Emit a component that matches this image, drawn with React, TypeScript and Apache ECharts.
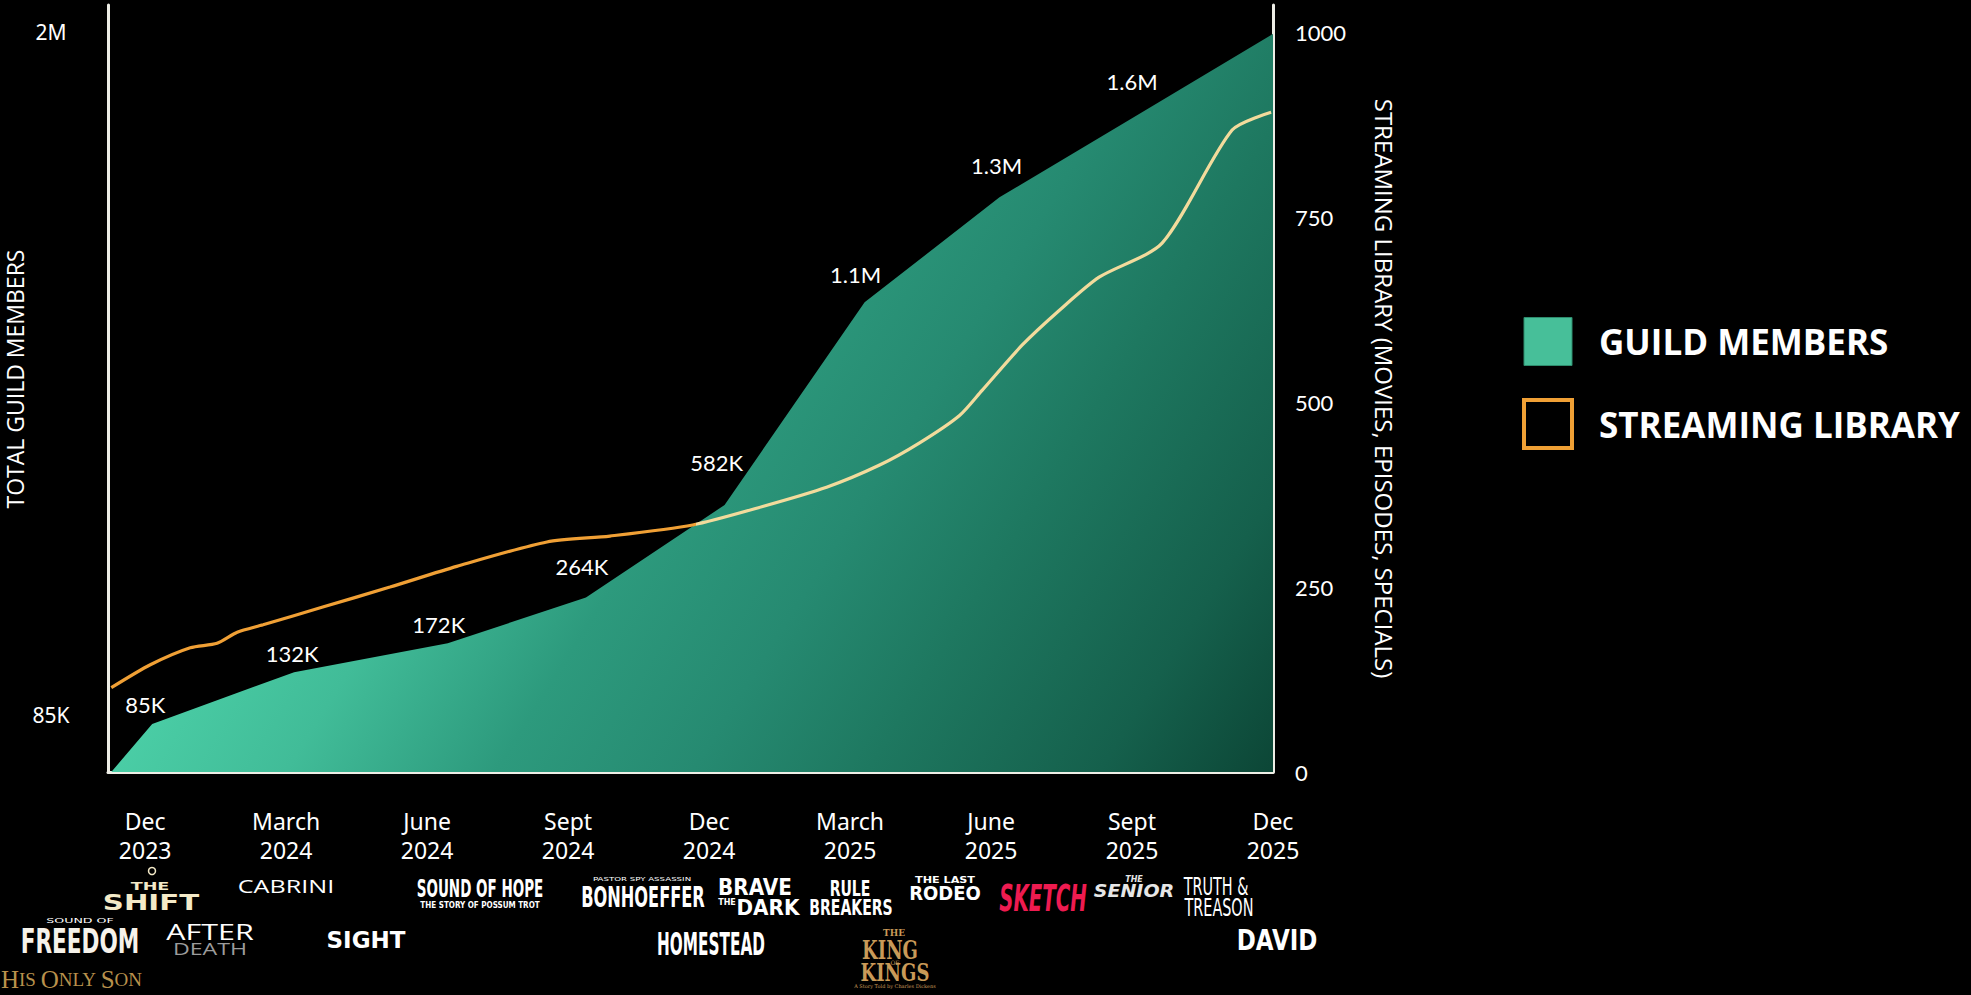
import React, { useEffect, useRef } from 'react';
import * as echarts from 'echarts';

// ---------- data ----------
const quarterMonths = [0, 3, 6, 9, 12, 15, 18, 21, 24];
const quarterLabels = [
  'Dec\n2023', 'March\n2024', 'June\n2024', 'Sept\n2024', 'Dec\n2024',
  'March\n2025', 'June\n2025', 'Sept\n2025', 'Dec\n2025',
];

// guild members: position on the chart's illustrative scale + printed value
const memberMonths = [-0.72, 0.15, 3.17, 6.44, 9.38, 12.33, 15.31, 18.18, 21.0, 24];
const memberValues = [0, 65, 135, 174, 236, 361, 635, 777, 884, 998];
const memberLabels = ['', '85K', '132K', '172K', '264K', '582K', '1.1M', '1.3M', '1.6M', ''];

// streaming library (movies, episodes, specials)
const libraryMonths = [
  -0.72, 0.11, 0.96, 1.53, 1.96, 2.51, 3.78, 5.21, 6.63, 8.55, 9.89, 11.65,
  13.14, 14.5, 15.63, 16.48, 17.33, 17.81, 18.66, 19.45, 20.3, 21.64, 23.13, 23.96,
];
const libraryValues = [
  114, 145, 168, 174, 189, 199, 223, 250, 278, 311, 319, 334,
  359, 385, 415, 445, 482, 516, 577, 624, 669, 715, 868, 892,
];

const rightTicks = [0, 250, 500, 750, 1000];
const leftTickValues = [77, 1000];
const leftTickLabels = ['85K', '2M'];
const leftAxisTitle = 'TOTAL GUILD MEMBERS';

// ---------- layout / style ----------
const memberLabelOffsets = [
  [0, 0], [-7, -19], [-2, -19], [-9, -19], [-4, -31], [-8, -42], [-9, -28], [-3, -32], [0, -37], [0, 0],
];

const NARROW = '"Liberation Sans Narrow", "DejaVu Sans Condensed", sans-serif';
const WIDE = '"DejaVu Sans", sans-serif';
const SERIF = '"DejaVu Serif", "Liberation Serif", serif';
const OPEN = '"Open Sans", sans-serif';
const GOLD = '#C99A58';

type Logo = {
  t: string; x: number; y: number; s: number; f: string; w?: string; i?: boolean;
  c?: string; sx?: number; sy?: number;
};
const logos: Logo[] = [
  { t: 'THE', x: 150, y: 886, s: 11, f: WIDE, w: 'bold', c: '#F4EAC8', sx: 1.6 },
  { t: 'SHIFT', x: 151, y: 902, s: 22, f: WIDE, w: 'bold', c: '#F4EAC8', sx: 1.33 },
  { t: 'CABRINI', x: 286, y: 886, s: 18, f: OPEN, sx: 1.4 },
  { t: 'SOUND OF HOPE', x: 480, y: 888, s: 15, f: NARROW, w: 'bold', sy: 1.7 },
  { t: 'THE STORY OF POSSUM TROT', x: 480, y: 905, s: 8, f: NARROW, w: 'bold' },
  { t: 'PASTOR SPY ASSASSIN', x: 642, y: 879, s: 6, f: NARROW, sx: 1.6 },
  { t: 'BONHOEFFER', x: 643, y: 897, s: 18, f: NARROW, w: 'bold', sy: 1.6 },
  { t: 'BRAVE', x: 755, y: 887, s: 20, f: WIDE, w: 'bold', sy: 1.15 },
  { t: 'THE', x: 727, y: 902, s: 8, f: WIDE, w: 'bold' },
  { t: 'DARK', x: 768, y: 908, s: 20, f: WIDE, w: 'bold', sy: 1.05 },
  { t: 'RULE', x: 850, y: 889, s: 15.6, f: NARROW, w: 'bold', sy: 1.35 },
  { t: 'BREAKERS', x: 851, y: 908, s: 15.6, f: NARROW, w: 'bold', sy: 1.35 },
  { t: 'THE LAST', x: 945, y: 880, s: 8, f: WIDE, w: 'bold', sx: 1.4 },
  { t: 'RODEO', x: 945, y: 893, s: 18, f: WIDE, w: 'bold', sy: 1.05 },
  { t: 'SKETCH', x: 1043, y: 898, s: 22, f: NARROW, w: 'bold', i: true, c: '#EE1B50', sy: 1.7 },
  { t: 'THE', x: 1134, y: 879, s: 8, f: WIDE, w: 'bold', i: true, c: '#E6E6E6' },
  { t: 'SENIOR', x: 1134, y: 891, s: 19, f: WIDE, w: 'bold', i: true, c: '#E6E6E6', sy: 0.95 },
  { t: 'TRUTH &', x: 1216, y: 887, s: 16, f: NARROW, sy: 1.5 },
  { t: 'TREASON', x: 1219, y: 907, s: 16, f: NARROW, sy: 1.6 },
  { t: 'SOUND OF', x: 80, y: 921, s: 7, f: WIDE, sx: 1.8 },
  { t: 'FREEDOM', x: 80, y: 941, s: 24, f: NARROW, w: 'bold', sy: 1.4, c: '#F6F2EA' },
  { t: 'AFTER', x: 210, y: 932, s: 21, f: OPEN, sx: 1.45 },
  { t: 'DEATH', x: 210, y: 949, s: 16, f: OPEN, c: '#9C9C9C', sx: 1.45 },
  { t: 'SIGHT', x: 366, y: 940, s: 23, f: WIDE, w: 'bold' },
  { t: 'HOMESTEAD', x: 711, y: 944, s: 17, f: NARROW, w: 'bold', sy: 1.9 },
  { t: 'THE', x: 894, y: 933, s: 9, f: SERIF, w: 'bold', c: GOLD },
  { t: 'KING', x: 890, y: 950, s: 18, f: SERIF, w: 'bold', c: GOLD, sy: 1.45 },
  { t: 'OF', x: 895, y: 962, s: 6, f: SERIF, c: GOLD },
  { t: 'KINGS', x: 895, y: 973, s: 18, f: SERIF, w: 'bold', c: GOLD, sy: 1.3 },
  { t: 'A Story Told by Charles Dickens', x: 895, y: 986, s: 5, f: SERIF, c: GOLD },
  { t: 'DAVID', x: 1277, y: 940, s: 23, f: WIDE, w: 'bold', sy: 1.2 },
];

function interp(xs: number[], ys: number[], x: number): number {
  if (x <= xs[0]) return ys[0];
  for (let i = 1; i < xs.length; i++) {
    if (x <= xs[i]) {
      const t = (x - xs[i - 1]) / (xs[i] - xs[i - 1]);
      return ys[i - 1] + t * (ys[i] - ys[i - 1]);
    }
  }
  return ys[ys.length - 1];
}

function buildOption() {
  // where the library line dives into the member area: colour switches there
  let cross = libraryMonths[0];
  for (let m = 2; m <= 24; m += 0.01) {
    if (interp(libraryMonths, libraryValues, m) < interp(memberMonths, memberValues, m)) {
      cross = m;
      break;
    }
  }
  const lm0 = libraryMonths[0];
  const lm1 = libraryMonths[libraryMonths.length - 1];
  const tc = (cross - lm0) / (lm1 - lm0);

  const ORANGE = '#F0A035';
  const CREAM = '#F2DB9C';
  const AXIS = '#EEEEE6';
  const yMax = 1037;

  const graphic: any[] = logos.map((l) => ({
    type: 'text',
    x: l.x,
    y: l.y,
    scaleX: l.sx ?? 1,
    scaleY: l.sy ?? 1,
    silent: true,
    style: {
      text: l.t,
      fill: l.c ?? '#FFFFFF',
      fontSize: l.s,
      fontFamily: l.f,
      fontWeight: l.w ?? 'normal',
      fontStyle: l.i ? 'italic' : 'normal',
      align: 'center',
      verticalAlign: 'middle',
      textAlign: 'center',
      textVerticalAlign: 'middle',
    },
  }));
  graphic.push({
    type: 'circle',
    shape: { cx: 152, cy: 871, r: 3.5 },
    style: { fill: 'none', stroke: '#F4EAC8', lineWidth: 1.5 },
    silent: true,
  });
  graphic.push({
    type: 'text',
    x: 1,
    y: 979,
    silent: true,
    style: {
      text: '{a|H}{b|IS }{a|O}{b|NLY }{a|S}{b|ON}',
      verticalAlign: 'middle',
      textVerticalAlign: 'middle',
      rich: {
        a: { fontFamily: '"Liberation Serif", serif', fontSize: 25, fill: '#B8914C', color: '#B8914C' },
        b: { fontFamily: '"Liberation Serif", serif', fontSize: 19, fill: '#B8914C', color: '#B8914C' },
      },
    },
  });
  // left axis title
  graphic.push({
    type: 'text',
    x: 15,
    y: 379,
    rotation: Math.PI / 2,
    silent: true,
    style: {
      text: leftAxisTitle,
      fill: '#FFFFFF',
      fontFamily: OPEN,
      fontSize: 23,
      align: 'center',
      verticalAlign: 'middle',
      textAlign: 'center',
      textVerticalAlign: 'middle',
    },
  });

  return {
    backgroundColor: '#000000',
    animation: false,
    grid: { left: 108, right: 698, top: 5, bottom: 223, containLabel: false, outerBoundsMode: 'none' },
    xAxis: {
      type: 'value',
      min: -0.79,
      max: 24,
      axisLine: { show: true, onZero: false, lineStyle: { color: AXIS, width: 3 } },
      axisTick: { show: false },
      splitLine: { show: false },
      axisLabel: {
        customValues: quarterMonths,
        formatter: (v: number) => {
          const i = quarterMonths.indexOf(Math.round(v));
          return i >= 0 ? quarterLabels[i] : '';
        },
        color: '#FFFFFF',
        fontFamily: '"Noto Sans", sans-serif',
        fontSize: 23,
        lineHeight: 29,
        margin: 34,
      },
    },
    yAxis: [
      {
        type: 'value',
        position: 'left',
        min: 0,
        max: yMax,
        axisLine: { show: true, onZero: false, lineStyle: { color: AXIS, width: 3 } },
        axisTick: { show: false },
        splitLine: { show: false },
        axisLabel: {
          customValues: leftTickValues,
          formatter: (v: number) => {
            const i = leftTickValues.indexOf(Math.round(v));
            return i >= 0 ? leftTickLabels[i] : '';
          },
          align: 'center',
          margin: 57,
          color: '#FFFFFF',
          fontFamily: '"Noto Sans", sans-serif',
          fontSize: 21,
        },
      },
      {
        type: 'value',
        position: 'right',
        min: 0,
        max: yMax,
        name: 'STREAMING LIBRARY (MOVIES, EPISODES, SPECIALS)',
        nameLocation: 'middle',
        nameRotate: -90,
        nameGap: 99,
        nameTextStyle: { color: '#FFFFFF', fontFamily: OPEN, fontSize: 24 },
        axisLine: { show: true, onZero: false, lineStyle: { color: AXIS, width: 3 } },
        axisTick: { show: false },
        splitLine: { show: false },
        axisLabel: {
          customValues: rightTicks,
          formatter: (v: number) => String(Math.round(v)),
          margin: 22,
          color: '#FFFFFF',
          fontFamily: 'Lato, sans-serif',
          fontSize: 22,
        },
      },
    ],
    legend: {
      orient: 'vertical',
      left: 1522,
      top: 317,
      padding: 0,
      itemWidth: 48,
      itemHeight: 48,
      itemGap: 32,
      selectedMode: false,
      textStyle: {
        color: '#FFFFFF',
        fontFamily: OPEN,
        fontWeight: 'bold',
        fontSize: 35,
        padding: [0, 0, 0, 22],
      },
      data: [
        { name: 'GUILD MEMBERS', icon: 'rect', itemStyle: { color: '#47BF99', borderColor: '#2E8C6D', borderWidth: 1 } },
        { name: 'STREAMING LIBRARY', icon: 'rect', itemStyle: { color: 'rgba(0,0,0,0)', borderColor: ORANGE, borderWidth: 4 } },
      ],
    },
    series: [
      {
        name: 'GUILD MEMBERS',
        type: 'line',
        yAxisIndex: 0,
        data: memberMonths.map((m, i) => ({
          value: [m, memberValues[i]],
          label: { offset: memberLabelOffsets[i] },
        })),
        symbol: 'circle',
        symbolSize: 1,
        showSymbol: true,
        itemStyle: { color: 'rgba(0,0,0,0)' },
        lineStyle: { width: 0 },
        areaStyle: {
          opacity: 1,
          color: new echarts.graphic.LinearGradient(0, 1, 0.862, 1.345, [
            { offset: 0, color: '#4ACDA5' },
            { offset: 0.15, color: '#41BC98' },
            { offset: 0.33, color: '#2D9A7D' },
            { offset: 0.5, color: '#268A71' },
            { offset: 0.65, color: '#1E7860' },
            { offset: 0.85, color: '#15604C' },
            { offset: 1, color: '#0C4636' },
          ]),
        },
        label: {
          show: true,
          position: 'inside',
          formatter: (p: any) => memberLabels[p.dataIndex],
          color: '#FFFFFF',
          fontFamily: 'Lato, sans-serif',
          fontSize: 22,
        },
        z: 2,
      },
      {
        name: 'STREAMING LIBRARY',
        type: 'line',
        yAxisIndex: 1,
        data: libraryMonths.map((m, i) => [m, libraryValues[i]]),
        symbol: 'none',
        smooth: 0.25,
        itemStyle: { color: ORANGE },
        lineStyle: {
          width: 3.2,
          color: new echarts.graphic.LinearGradient(0, 0, 1, 0, [
            { offset: 0, color: ORANGE },
            { offset: tc, color: ORANGE },
            { offset: tc, color: CREAM },
            { offset: 1, color: CREAM },
          ]),
        },
        z: 3,
      },
    ],
    graphic,
  };
}

export default function App() {
  const ref = useRef<HTMLDivElement | null>(null);
  useEffect(() => {
    document.body.style.margin = '0';
    document.body.style.background = '#000';
    if (!ref.current) return;
    const chart = echarts.init(ref.current, undefined, { renderer: 'svg' });
    chart.setOption(buildOption() as any);
    return () => chart.dispose();
  }, []);
  return (
    <div
      ref={ref}
      style={{ position: 'absolute', left: 0, top: 0, width: 1971, height: 995, background: '#000' }}
    />
  );
}
